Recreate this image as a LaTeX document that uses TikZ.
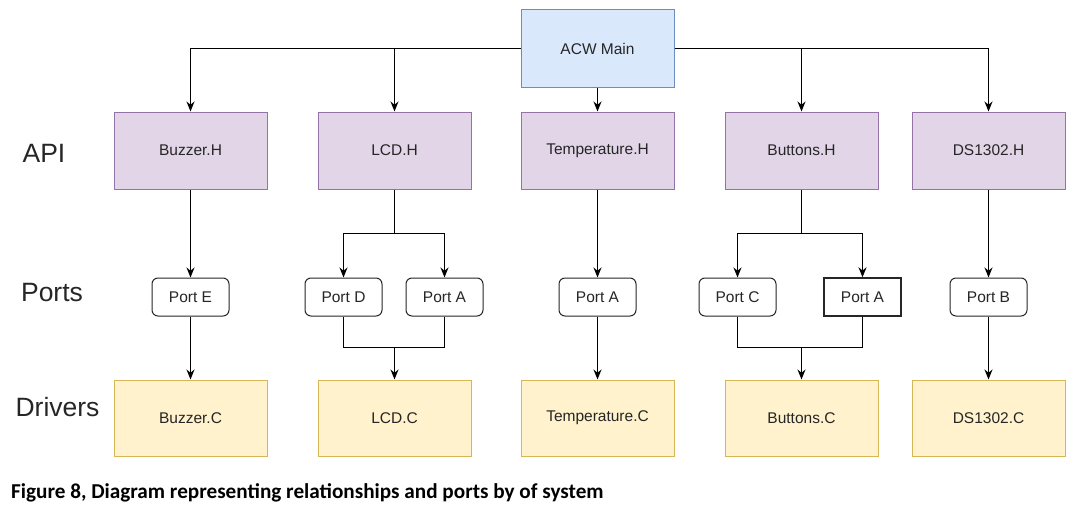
\documentclass[tikz,border=0pt]{standalone}
\usepackage{fontspec}
\setmainfont{Liberation Sans}
\newfontfamily\capfont{Carlito}
\usetikzlibrary{arrows.meta}
\definecolor{mainfill}{HTML}{DAE8FC}\definecolor{mainline}{HTML}{6C8EBF}
\definecolor{apifill}{HTML}{E1D5E7}\definecolor{apiline}{HTML}{9673A6}
\definecolor{drvfill}{HTML}{FFF2CC}\definecolor{drvline}{HTML}{D6B656}
\begin{document}
\begin{tikzpicture}[x=1pt,y=-1pt,
  box/.style={draw, line width=1pt, minimum width=153pt, minimum height=77pt, inner sep=0pt, font=\fontsize{15.5}{18}\selectfont, text=black!85},
  mainbox/.style={box, fill=mainfill, draw=mainline},
  apibox/.style={box, fill=apifill, draw=apiline},
  drvbox/.style={box, fill=drvfill, draw=drvline, minimum height=76pt},
  portbox/.style={draw=black!85, line width=1pt, rounded corners=6pt, fill=white, minimum width=77pt, minimum height=38pt, inner sep=0pt, font=\fontsize{15.5}{18}\selectfont, text=black!85},
  portsq/.style={portbox, rounded corners=0pt, line width=1.4pt},
  rowlabel/.style={font=\fontsize{26.5}{30}\selectfont, text=black!85},
  conn/.style={draw, line width=1.3pt, -{Stealth[length=10pt,width=8pt]}},
  wire/.style={draw, line width=1.3pt}
]
\useasboundingbox (0,0) rectangle (1081,511);
% top
\node[mainbox] (main) at (597.5,48.5) {ACW Main};
% API
\node[apibox] (bh) at (190.5,150.5) {Buzzer.H};
\node[apibox] (lh) at (394.5,150.5) {LCD.H};
\node[apibox] (th) at (597.5,150.5) {Temperature.H};
\node[apibox] (uh) at (801.5,150.5) {Buttons.H};
\node[apibox] (dh) at (988.5,150.5) {DS1302.H};
% Ports
\node[portbox] (pe) at (190.5,297) {Port E};
\node[portbox] (pd) at (343.5,297) {Port D};
\node[portbox] (pa1) at (444.5,297) {Port A};
\node[portbox] (pa2) at (597.5,297) {Port A};
\node[portbox] (pc) at (737.5,297) {Port C};
\node[portsq] (pa3) at (862.5,297) {Port A};
\node[portbox] (pb) at (988.5,297) {Port B};
% Drivers
\node[drvbox] (bc) at (190.5,418) {Buzzer.C};
\node[drvbox] (lc) at (394.5,418) {LCD.C};
\node[drvbox] (tc) at (597.5,418) {Temperature.C};
\node[drvbox] (uc) at (801.5,418) {Buttons.C};
\node[drvbox] (dc) at (988.5,418) {DS1302.C};
% row labels
\node[rowlabel] (lapi) at (44,153) {API};
\node[rowlabel] (lports) at (52,293) {Ports};
\node[rowlabel] (ldrv) at (57.5,407) {Drivers};
% caption
\node[anchor=west, font=\capfont\bfseries\fontsize{21.2}{24}\selectfont, inner sep=0pt] (cap) at (11,493) {Figure 8, Diagram representing relationships and ports by of system};
% main to API
\draw[conn] (main.west) -| (bh.north);
\draw[conn] (main.west) -| (lh.north);
\draw[conn] (main.south) -- (th.north);
\draw[conn] (main.east) -| (uh.north);
\draw[conn] (main.east) -| (dh.north);
% API to ports
\draw[conn] (bh.south) -- (pe.north);
\coordinate (lsplit) at (394.5,233.5);
\draw[wire] (lh.south) -- (lsplit);
\draw[conn] (lsplit) -| (pd.north);
\draw[conn] (lsplit) -| (pa1.north);
\draw[conn] (th.south) -- (pa2.north);
\coordinate (usplit) at (801.5,233.5);
\draw[wire] (uh.south) -- (usplit);
\draw[conn] (usplit) -| (pc.north);
\draw[conn] (usplit) -| (pa3.north);
\draw[conn] (dh.south) -- (pb.north);
% ports to drivers
\draw[conn] (pe.south) -- (bc.north);
\coordinate (lmerge) at (394.5,347.5);
\draw[wire] (pd.south) |- (lmerge);
\draw[wire] (pa1.south) |- (lmerge);
\draw[conn] (lmerge) -- (lc.north);
\draw[conn] (pa2.south) -- (tc.north);
\coordinate (umerge) at (801.5,347.5);
\draw[wire] (pc.south) |- (umerge);
\draw[wire] (pa3.south) |- (umerge);
\draw[conn] (umerge) -- (uc.north);
\draw[conn] (pb.south) -- (dc.north);
\end{tikzpicture}
\end{document}
